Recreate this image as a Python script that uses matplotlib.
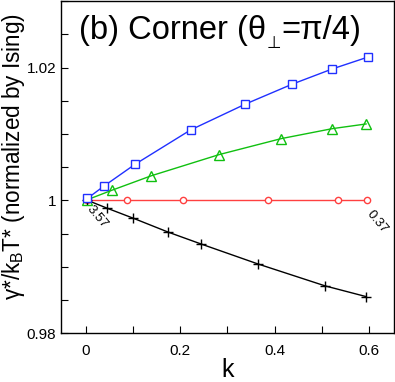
import numpy as np
import matplotlib
matplotlib.use("Agg")
import matplotlib.pyplot as plt
from matplotlib.ticker import MultipleLocator

plt.rcParams['font.family'] = ['Liberation Sans', 'DejaVu Sans']
plt.rcParams['mathtext.fontset'] = 'custom'
plt.rcParams['mathtext.rm'] = 'Liberation Sans'
plt.rcParams['mathtext.it'] = 'Liberation Sans'

# data
k_sq = [0.004, 0.038, 0.104, 0.222, 0.338, 0.437, 0.522, 0.598]
g_sq = [1.0003, 1.0021, 1.0054, 1.0106, 1.0145, 1.0175, 1.0198, 1.0216]

k_tri = [0.004, 0.055, 0.139, 0.283, 0.414, 0.522, 0.593]
g_tri = [1.0001, 1.0015, 1.0037, 1.0069, 1.0093, 1.0108, 1.0115]

k_circ = [0.004, 0.087, 0.205, 0.386, 0.534, 0.596]
g_circ = [1.0, 1.0, 1.0, 1.0, 1.0, 1.0]

k_plus = [0.004, 0.046, 0.101, 0.175, 0.245, 0.365, 0.507, 0.593]
g_plus = [1.0, 0.9988, 0.9973, 0.9952, 0.9934, 0.9904, 0.9871, 0.9855]

fig = plt.figure(figsize=(3.95, 3.82), dpi=100)
ax = fig.add_axes([0.1544, 0.128, 0.843, 0.869])

ax.plot(k_circ, g_circ, color='#ff4040', lw=1, marker='o', ms=4.5, mfc='white', mew=1)
ax.plot(k_plus, g_plus, color='black', lw=1, marker='+', ms=7, mew=1)
ax.plot(k_tri, g_tri, color='#10c010', lw=1, marker='^', ms=6.5, mfc='none', mew=1)
ax.plot(k_sq, g_sq, color='#2030ff', lw=1, marker='s', ms=5.5, mfc='white', mew=1)

ax.set_xlim(-0.052, 0.652)
ax.set_ylim(0.98, 1.03)
ax.set_xticks([0, 0.2, 0.4, 0.6], ['0', '0.2', '0.4', '0.6'])
ax.set_yticks([0.98, 1.0, 1.02], ['0.98', '1', '1.02'])
ax.xaxis.set_minor_locator(MultipleLocator(0.1))
ax.yaxis.set_minor_locator(MultipleLocator(0.005))
ax.tick_params(which='both', direction='in', labelsize=11)
ax.tick_params(which='major', length=5, width=0.8)
ax.tick_params(which='minor', length=5, width=0.8)
ax.tick_params(axis='x', pad=8)

ax.set_xlabel('k', fontsize=18, labelpad=0)
ax.set_ylabel(r'γ*/k$_\mathrm{B}$T* (normalized by Ising)', fontsize=13)
# fit the label to the length it has in the reference (about 287 px)
fig.canvas.draw()
fs = 13 * 287 / ax.yaxis.label.get_window_extent().height
ax.yaxis.label.set_fontsize(fs)
ax.yaxis.set_label_coords(-0.102, 0.532)

# title in three pieces so the subscript sits close to theta
t1 = ax.text(0.055, 0.958, '(b) Corner (θ', transform=ax.transAxes,
             fontsize=23.5, va='top', ha='left')
t2 = ax.annotate('⊥', xy=(1, 0), xycoords=t1, xytext=(0, -4),
                 textcoords='offset points', fontsize=12, va='bottom', ha='left',
                 family=['DejaVu Sans'])
ax.annotate('=π/4)', xy=(1, 0), xycoords=t2, xytext=(0, 4),
            textcoords='offset points', fontsize=23.5, va='bottom', ha='left')

ax.text(-0.004, 0.99955, '3.57', fontsize=9.5, rotation=-50, ha='left', va='top')
ax.text(0.589, 0.9988, '0.37', fontsize=9.5, rotation=-50, ha='left', va='top')

for s in ax.spines.values():
    s.set_linewidth(1)

fig.savefig('out.png', dpi=100)
